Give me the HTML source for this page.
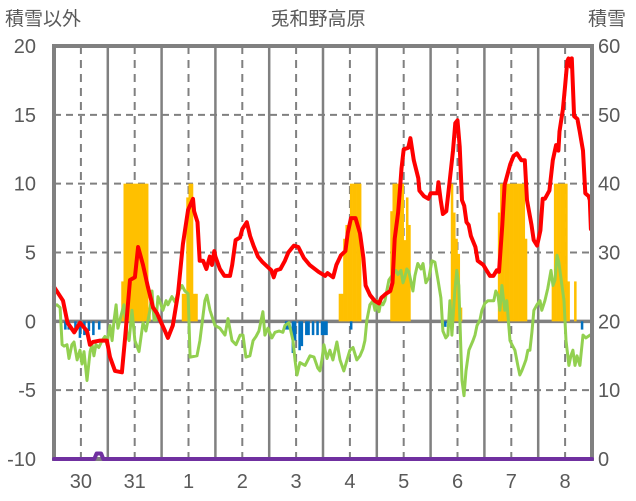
<!DOCTYPE html>
<html><head><meta charset="utf-8"><style>
html,body{margin:0;padding:0;background:#fff;}
svg{display:block;font-family:"Liberation Sans","Noto Sans CJK JP",sans-serif;}
</style></head><body>
<svg id="chart" width="636" height="501" viewBox="0 0 636 501">
<g id="grid"></g>
<g id="bars"></g>
<g id="lines"></g>
<g id="axes"></g>
<text x="318" y="25" font-size="19" fill="#595959" text-anchor="middle">兎和野高原</text>
<text x="5" y="25" font-size="19" fill="#595959">積雪以外</text>
<text x="588" y="25" font-size="19" fill="#595959">積雪</text>
</svg>
<script>
const dayLabels=["30","31","1","2","3","4","5","6","7","8"];
const leftTicks=[20,15,10,5,0,-5,-10];
const rightTicks=["60","50","40","30","20","10","0"];
const redHours=[0,2,4,6,9,11.6,14.7,16,17.4,20.5,23.6,25,27.2,30.3,31.7,33.9,36.1,37.5,39.7,41.9,44.2,45.9,47.3,49.5,50.8,53,55.3,57.5,59.8,62,62.5,64,65,66.5,68,69.5,70.5,71.5,72,74,76,78.5,79.5,81,83,84,86,87.5,89,91,93,95,97,98,99,101,103,104.5,106,107,109,111.5,114,118,121,122,124.5,126,128,130,131,132.5,134.5,136.5,138,139,141,143,145,146,148,150,151,152,153.5,154.5,155,156,158,159,160.5,162.5,163,165,167,168,171,171.5,172.5,173.5,175,176.5,178,179,180,181,182,183,184,185,186,188,189,191.5,193,194.5,196,197.5,198.5,200,201,203.5,205,206.5,208.5,210,211,213,214,215.5,217,218,219,221,222.5,224,225,225.5,227,228,229,229.5,230.5,231,232,233.5,234.5,236,237,238.5,239,239.5];
const redValues=[2.5,2.0,1.5,-0.1,-0.8,-0.1,-0.7,-1.7,-1.5,-1.4,-1.4,-2.6,-3.6,-3.7,-1.2,3.0,3.2,5.4,4.1,2.5,1.0,0.6,0.1,-0.7,-1.2,-0.3,2.0,5.6,8.1,8.9,8.0,7.2,4.4,4.4,3.8,4.7,4.1,5.1,4.7,3.8,3.3,3.3,4.1,5.9,6.1,6.7,7.2,6.2,5.5,4.7,4.3,4.0,3.7,3.2,3.7,3.8,4.4,5.0,5.3,5.5,5.4,4.6,4.1,3.6,3.3,3.5,3.2,4.1,4.8,5.1,6.4,7.5,7.5,6.4,4.6,2.6,1.9,1.5,1.3,1.7,2.0,2.2,2.8,6.0,7.9,9.9,11.1,12.5,12.6,13.3,11.7,10.4,9.5,9.1,8.9,9.3,9.3,10.1,8.8,7.8,8.0,10.2,12.4,14.4,14.6,12.7,8.8,8.4,7.2,7.0,6.2,5.4,4.4,4.1,3.7,3.3,3.3,3.7,3.6,7.0,9.9,11.4,12.0,12.2,11.7,11.7,8.8,7.0,5.9,5.5,6.6,8.9,8.9,9.5,11.7,12.8,12.4,13.8,15.4,17.1,18.9,19.1,18.5,19.1,14.9,14.7,13.8,12.4,9.3,9.1,8.8,6.7];
const greenHours=[0,1.3,2.7,3.6,4.5,5.8,6.7,8,8.9,10.3,11.6,12.5,13.4,14.7,16.1,17,17.8,18.7,20,21.4,22.7,23.6,25,25.9,26.8,27.7,28.5,29.9,31.2,32.6,33.5,34.8,36.1,37.9,39.7,41,42.8,43.7,44.6,45.5,46.4,47.3,48.6,50,50.8,51.7,52.6,54,55.3,57.1,58.4,59.8,60.7,63.8,65.1,67.3,68.2,69.6,71.8,74,76.3,77.6,79.4,81.2,83,84.3,85.6,87.4,88.8,90.1,91.4,93.2,94.1,95.4,97.2,98.6,100.4,102.1,103,104.8,106.6,107.5,108.4,109.7,112,114.2,116,117.7,118.6,119.5,120.4,121.8,123.1,124.4,126.2,127.6,129.3,130.7,132,133.4,135.1,136.5,137.8,138.7,139.6,140.9,142.3,143.2,144.1,145,145.8,146.7,147.6,149.4,150.7,152.5,153.4,154.8,155.7,156.5,157.4,158.3,160.1,161,162.3,163.7,164.6,165.9,167.3,168.6,169.9,171.3,172.6,173.5,174.8,175.7,176.6,177.5,178.8,179.7,180.6,181.5,182,182.9,183.8,185.1,186.9,187.8,188.7,190,190.9,192.2,193.6,194.9,196.2,197.1,198,198.9,199.8,201.1,202,203.4,204.3,205.6,206.9,207.8,208.7,209.6,210.5,211.4,212.3,213.2,214.1,215.4,216.8,217.6,219,220.3,221.7,222.6,223.5,224.4,225.2,227.5,228.4,229.7,230.6,231.5,232.4,233.3,234.6,236,237.3,239.1];
const greenValues=[1.1,1.2,1.0,-1.7,-1.8,-1.7,-2.7,-1.7,-1.5,-2.8,-2.1,-3.1,-2.2,-4.3,-2.2,-1.7,-2.5,-1.7,-1.9,-1.4,-1.1,-1.7,-0.3,-1.4,0.1,1.2,-0.5,0.4,1.2,-1.0,-1.4,0.8,-1.4,-2.2,-0.1,-0.7,0.8,2.2,0.1,0.1,1.8,1.4,0.8,1.5,1.2,1.5,1.8,1.4,2.1,2.6,2.2,2.0,-2.6,-2.5,-1.4,1.5,1.9,0.8,-0.3,-0.5,-1.0,0.2,-1.4,-1.7,-1.0,-1.0,-2.6,-2.5,-1.4,-1.1,-0.7,0.7,-1.0,-0.5,-1.2,-0.8,-0.7,-0.8,-0.3,-0.1,-1.4,-2.8,-3.9,-3.0,-3.2,-2.5,-2.6,-3.4,-3.6,-2.8,-1.7,-2.7,-2.1,-2.8,-1.5,-2.8,-3.6,-2.8,-2.1,-1.9,-2.8,-2.5,-2.0,-1.4,0.1,1.2,1.5,0.8,1.5,0.7,1.4,1.2,1.5,3.0,3.3,3.7,3.4,3.7,2.8,3.2,3.8,3.6,2.2,3.3,4.2,3.8,4.2,2.8,3.2,4.4,4.3,3.0,1.7,-0.7,-1.2,-1.0,1.5,-1.0,2.2,3.7,2.6,-2.1,-4.3,-5.4,-3.6,-2.1,-1.4,-1.0,-0.3,0.1,0.8,1.3,1.5,1.5,1.5,2.2,1.9,0.8,2.6,0.8,1.5,-1.4,-1.7,-2.1,-3.2,-3.9,-3.6,-3.2,-2.8,-2.1,-2.1,-0.8,0.8,1.2,1.5,0.8,1.5,2.4,3.7,2.6,3.0,4.8,4.3,1.5,-1.4,-3.2,-2.5,-2.1,-3.2,-2.5,-3.2,-1.0,-1.2,-1.0];
const orangeHours=[30,31,32,33,34,35,36,37,38,39,40,41,42,57,58,59,60,61,62,63,127,128,129,130,131,132,133,134,135,136,150,151,152,153,154,155,156,157,158,177,178,179,180,181,198,199,200,201,202,203,204,205,206,207,208,209,210,222,223,224,225,226,227,228,229,232];
const orangeValues=[2.9,10,10,10,10,10,10,10,10,10,10,10,1.0,2,2,9,10,10,2,2,2,2,6,7,7,10,10,10,10,10,8,10,10,10,10,10,5.9,9,7,10,7.9,6,4.9,1.0,7.9,10,10,10,10,10,10,10,10,10,10,10,6,2.9,10,10,10,10,10,10,2.9,2.9];
const blueHours=[4.5,6,9,11,13,15,17,19.6,103,104,106,107,109,110,112,113,115,117,119,120,121,132,174,235];
const blueValues=[-0.6,-0.6,-0.8,-1.2,-1.0,-0.7,-1.0,-0.6,-0.6,-0.6,-2.3,-1.4,-2.1,-1.8,-1.0,-1.0,-1.0,-1.0,-1.0,-1.0,-1.0,-0.6,-0.4,-0.6];
const purpleHours=[0,18,19,21,22,240];
const purpleValues=[-10,-10,-9.6,-9.6,-10,-10];

const X0=54,X1=592,Y0=46,Y1=459,NS="http://www.w3.org/2000/svg";
const xs=h=>X0+(X1-X0)*h/240;
const ys=v=>Y1-(Y1-Y0)*(v+10)/30;
function mk(tag,attrs,parent){const e=document.createElementNS(NS,tag);for(const k in attrs)e.setAttribute(k,attrs[k]);parent.appendChild(e);return e;}
const grid=document.getElementById('grid'),bars=document.getElementById('bars'),lines=document.getElementById('lines'),axes=document.getElementById('axes');
leftTicks.forEach((t,i)=>{
  if(t!==20&&t!==-10&&t!==0){const l=mk('line',{x1:X0,x2:X1,y1:ys(t),y2:ys(t),stroke:'#808080','stroke-width':2,'stroke-dasharray':'7,5'},grid);
  
  }
  const tx=mk('text',{x:36,y:ys(t)+7,'font-size':20,fill:'#595959','text-anchor':'end'},axes);tx.textContent=t;
  
  
  const rt=mk('text',{x:598,y:ys(t)+7,'font-size':20,fill:'#595959'},axes);rt.textContent=rightTicks[i];
  
  
});
dayLabels.forEach((d,i)=>{
  const xn=xs(i*24+12);
  const l=mk('line',{x1:xn,x2:xn,y1:Y0,y2:Y1,stroke:'#808080','stroke-width':2,'stroke-dasharray':'8,6'},grid);
  
  
  if(i>0){const m=mk('line',{x1:xs(i*24),x2:xs(i*24),y1:Y0,y2:Y1,stroke:'#808080','stroke-width':2.5},grid);
  
  }
  const tx=mk('text',{x:xn,y:488,'font-size':20,fill:'#595959','text-anchor':'middle'},axes);tx.textContent=d;
  
  
});
const bw=(X1-X0)/240+0.3;
orangeHours.forEach((h,i)=>{const y=ys(orangeValues[i]);const r=mk('rect',{x:xs(h),y:y,width:bw,height:ys(0)-y,fill:'#ffc000'},bars);
  
  });
blueHours.forEach((h,i)=>{const y=ys(blueValues[i]);const r=mk('rect',{x:xs(h),y:ys(0),width:bw,height:y-ys(0),fill:'#0070c0'},bars);
  
  });
const z=mk('line',{x1:X0,x2:X1,y1:ys(0),y2:ys(0),stroke:'#808080','stroke-width':3.5},grid);


function path(hs,vs,color,w,name){const d=hs.map((h,i)=>(i?'L':'M')+xs(h).toFixed(1)+','+ys(vs[i]).toFixed(1)).join('');
  const p=mk('path',{d:d,fill:'none',stroke:color,'stroke-width':w,'stroke-linejoin':'round','stroke-linecap':'round'},lines);
  
  }
path(greenHours,greenValues,'#92d050',3,'green-line');
path(redHours,redValues,'#ff0000',4,'red-line');
const b=mk('rect',{x:X0,y:Y0,width:X1-X0,height:Y1-Y0,fill:'none',stroke:'#808080','stroke-width':4},axes);


path(purpleHours,purpleValues,'#7030a0',4,'purple-line');
lines.parentNode.appendChild(lines.lastChild);
</script>
</body></html>
